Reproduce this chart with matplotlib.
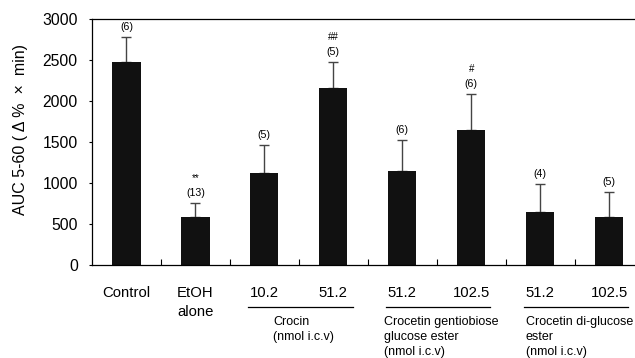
import numpy as np
import matplotlib
matplotlib.use("Agg")
import matplotlib.pyplot as plt

plt.rcParams['font.family'] = ['Liberation Sans', 'DejaVu Sans']

# values
tick_labels = ["Control", "EtOH\nalone", "10.2", "51.2", "51.2", "102.5", "51.2", "102.5"]
auc_mean = [2475, 577, 1113, 2158, 1146, 1646, 638, 577]
auc_sem = [297, 175, 347, 314, 370, 439, 346, 305]
n_labels = ["(6)", "(13)", "(5)", "(5)", "(6)", "(6)", "(4)", "(5)"]
sig_marks = ["", "**", "", "##", "", "#", "", ""]
groups = ["Crocin\n(nmol i.c.v)",
          "Crocetin gentiobiose\nglucose ester\n(nmol i.c.v)",
          "Crocetin di-glucose\nester\n(nmol i.c.v)"]
group_members = [(2, 3), (4, 5), (6, 7)]

fig = plt.figure(figsize=(6.35, 3.58), dpi=100)
# right spine sits outside the picture, like the cropped original
ax = fig.add_axes([0.1449, 0.2606, 0.8685, 0.6877])

x = np.arange(len(auc_mean))
ax.bar(x, auc_mean, width=0.41, color="#111111", zorder=2)
ax.errorbar(x, auc_mean, yerr=[np.zeros(len(auc_sem)), auc_sem], fmt="none",
            ecolor="#444444", elinewidth=1.0, capsize=3.5, capthick=1.0, zorder=1)

for i in range(len(x)):
    top = auc_mean[i] + auc_sem[i]
    ax.annotate(n_labels[i], (x[i], top), xytext=(0, 3.5), textcoords="offset points",
                ha="center", va="bottom", fontsize=7.7)
    if sig_marks[i]:
        ax.annotate(sig_marks[i], (x[i], top), xytext=(0, 14), textcoords="offset points",
                    ha="center", va="bottom", fontsize=7)

ax.set_xlim(-0.5, 7.5)
ax.set_ylim(0, 3000)
ax.set_yticks(np.arange(0, 3001, 500))
ax.tick_params(axis="y", direction="out", length=2.2, width=0.8, labelsize=11.3, pad=8)

ax.set_xticks(x)
ax.set_xticklabels(tick_labels, fontsize=10.7, linespacing=1.5)
ax.tick_params(axis="x", which="major", length=0, pad=15)
ax.set_xticks(np.arange(0.5, 7.5, 1), minor=True)
ax.tick_params(axis="x", which="minor", direction="in", length=4, width=0.8)

for s in ["left", "bottom", "top", "right"]:
    ax.spines[s].set_linewidth(0.9)

ax.set_ylabel("AUC 5-60 ( Δ %  ×  min)", fontsize=11.5)
ax.yaxis.set_label_coords(-0.116, 0.551)

tr = ax.get_xaxis_transform()
for label, (a, b) in zip(groups, group_members):
    ax.plot([a - 0.23, b + 0.28], [-0.172, -0.172], color="black", lw=0.9,
            transform=tr, clip_on=False)
    ax.text((a + b) / 2 + 0.07, -0.208, label, transform=tr, ha="center", va="top",
            multialignment="left", fontsize=9, linespacing=1.33)

fig.savefig("out.png", dpi=100)
